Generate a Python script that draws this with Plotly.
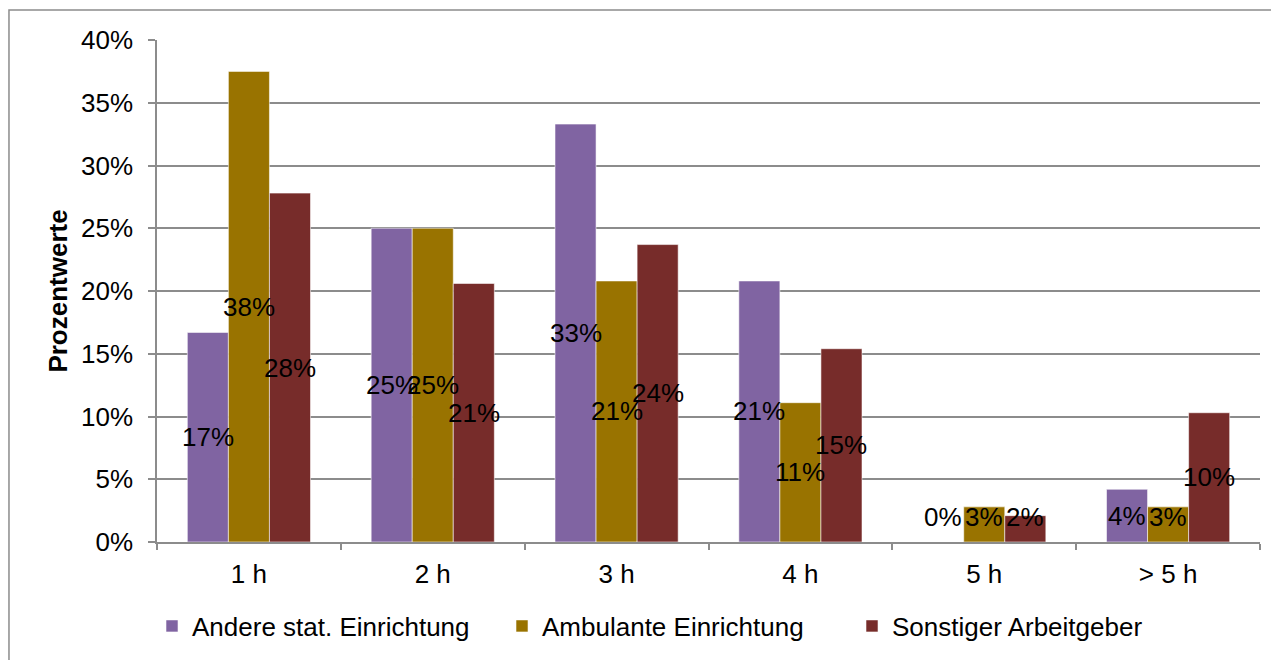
import plotly.graph_objects as go

categories = ["1 h", "2 h", "3 h", "4 h", "5 h", "> 5 h"]
series_names = ["Andere stat. Einrichtung", "Ambulante Einrichtung", "Sonstiger Arbeitgeber"]
andere = [16.7, 25.0, 33.3, 20.8, 0.0, 4.2]
ambulante = [37.5, 25.0, 20.8, 11.1, 2.8, 2.8]
sonstiger = [27.8, 20.6, 23.7, 15.4, 2.1, 10.3]
y_ticks = [0, 5, 10, 15, 20, 25, 30, 35, 40]
y_tick_labels = ["0%", "5%", "10%", "15%", "20%", "25%", "30%", "35%", "40%"]

colors = ["#8064A2", "#997300", "#772C2A"]
font_family = "Liberation Sans, Arial, sans-serif"

fig = go.Figure()
all_series = [andere, ambulante, sonstiger]
for name, vals, col in zip(series_names, all_series, colors):
    fig.add_trace(go.Bar(
        x=categories, y=vals, name=name,
        marker=dict(color=col, line=dict(color="rgba(255,255,255,0.55)", width=1)),
    ))

bargap = 0.33
bw = (1 - bargap) / 3
min_label = 2.0
for j, vals in enumerate(all_series):
    for i, v in enumerate(vals):
        fig.add_annotation(
            x=i + (j - 1) * bw, y=max(v / 2, min_label), xref="x", yref="y",
            text=f"{v:.0f}%", showarrow=False,
            font=dict(size=26, color="black", family=font_family),
        )

fig.add_shape(type="rect", xref="paper", yref="paper",
              x0=-0.1342, x1=1.05, y0=-0.3, y1=1.0598,
              line=dict(color="#8c8c8c", width=1.5), fillcolor="rgba(0,0,0,0)", layer="below")

fig.update_layout(
    width=1279, height=660,
    margin=dict(l=149, r=27, t=32, b=126, autoexpand=False),
    paper_bgcolor="white", plot_bgcolor="white",
    barmode="group", bargap=bargap, bargroupgap=0,
    font=dict(family=font_family, size=26, color="black"),
    showlegend=True,
    legend=dict(orientation="h", xref="container", yref="container",
                x=0.1126, xanchor="left", y=0.0636, yanchor="middle",
                entrywidth=305, entrywidthmode="pixels",
                font=dict(size=26, family=font_family), traceorder="normal"),
    xaxis=dict(type="category", showline=True, linecolor="#8c8c8c", linewidth=1.5,
               ticks="outside", ticklen=6, tickcolor="#8c8c8c", tickwidth=1.5,
               tickson="boundaries", showgrid=False, ticklabelstandoff=8,
               tickfont=dict(size=26), automargin=False),
    yaxis=dict(range=[0, 40], tickmode="array", tickvals=y_ticks, ticktext=y_tick_labels,
               showline=True, linecolor="#8c8c8c", linewidth=1.5,
               ticks="outside", ticklen=7, tickcolor="#8c8c8c", tickwidth=1.5,
               showgrid=True, gridcolor="#8c8c8c", gridwidth=1.5, zeroline=False,
               ticklabelstandoff=10, tickfont=dict(size=26), automargin=False,
               title=dict(text="<b>Prozentwerte</b>", font=dict(size=26), standoff=6)),
)

fig.write_html("out.html")
